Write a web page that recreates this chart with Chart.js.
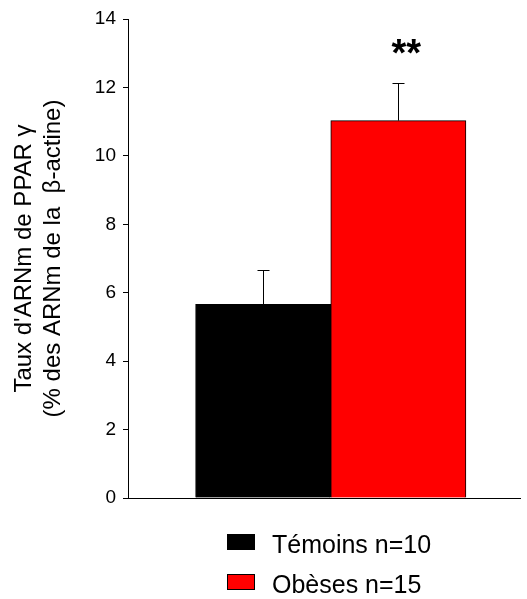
<!DOCTYPE html>
<html>
<head>
<meta charset="utf-8">
<script src="https://cdn.jsdelivr.net/npm/chart.js@4"></script>
<style>
  html, body { margin:0; padding:0; background:#fff; }
  #wrap { width:527px; height:599px; position:relative; }
</style>
</head>
<body>
<div id="wrap"><canvas id="chart" width="527" height="599"></canvas></div>
<script>
// ---------- DATA ----------
const GROUPS = ["Témoins n=10", "Obèses n=15"];
const MEANS = [5.66, 11.03];
const SEMS = [0.99, 1.1];
const COLORS = ["#000000", "#ff0000"];
const Y_TICKS = [0, 2, 4, 6, 8, 10, 12, 14];
const Y_TITLE = ["Taux d'ARNm de PPAR γ", "(% des ARNm de la  β-actine)"];
const SIGNIF = "**";

const FONT = "'Liberation Sans', Arial, sans-serif";

// error bars, stars, y title and legend
const extras = {
  id: "extras",
  afterDatasetsDraw(chart) {
    const ctx = chart.ctx;
    const x = chart.scales.x, y = chart.scales.y;
    ctx.save();
    ctx.strokeStyle = "#000";
    ctx.lineWidth = 1;
    MEANS.forEach((m, i) => {
      const cx = Math.round(x.getPixelForValue(i + 1)) + 0.5;
      const top = Math.round(y.getPixelForValue(m + SEMS[i])) + 0.5;
      ctx.beginPath();
      ctx.moveTo(cx, y.getPixelForValue(m));
      ctx.lineTo(cx, top);
      ctx.moveTo(cx - 6, top);
      ctx.lineTo(cx + 6, top);
      ctx.stroke();
    });
    // significance stars over the last bar
    const last = MEANS.length - 1;
    ctx.fillStyle = "#000";
    ctx.font = "bold 38px " + FONT;
    ctx.textAlign = "center";
    ctx.textBaseline = "alphabetic";
    ctx.fillText(SIGNIF, x.getPixelForValue(last + 1) + 8, y.getPixelForValue(MEANS[last] + SEMS[last]) - 17);

    // y axis title, two rotated lines
    const midY = (chart.chartArea.top + chart.chartArea.bottom) / 2;
    ctx.font = "24px " + FONT;
    ctx.save();
    ctx.translate(0, midY);
    ctx.rotate(-Math.PI / 2);
    ctx.textBaseline = "middle";
    ctx.fillText(Y_TITLE[0], 0, 24);
    ctx.fillText(Y_TITLE[1], 0, 53);
    ctx.restore();

    // legend
    ctx.font = "25px " + FONT;
    ctx.textAlign = "left";
    GROUPS.forEach((g, i) => {
      const by = 534 + i * 40;
      ctx.fillStyle = COLORS[i];
      ctx.fillRect(227, by, 28, 16);
      ctx.strokeStyle = "#000";
      ctx.strokeRect(227.5, by + 0.5, 27, 15);
      ctx.fillStyle = "#000";
      ctx.fillText(g, 272, by + 19);
    });
    ctx.restore();
  }
};

new Chart(document.getElementById("chart"), {
  type: "bar",
  data: {
    datasets: GROUPS.map((g, i) => ({
      label: g,
      data: [{ x: i + 1, y: MEANS[i] }],
      backgroundColor: COLORS[i],
      borderColor: "#000",
      borderWidth: 1,
      barPercentage: 1,
      categoryPercentage: 1,
      grouped: false
    }))
  },
  options: {
    responsive: false,
    animation: false,
    layout: { padding: { left: 0, right: 7, top: 19, bottom: 101 } },
    plugins: { legend: { display: false }, title: { display: false }, tooltip: { enabled: false } },
    scales: {
      x: {
        type: "linear",
        offset: false,
        min: 0,
        max: 2.9,
        afterBuildTicks: s => { s.ticks = GROUPS.map((g, i) => ({ value: i + 1 })); },
        ticks: { display: false },
        grid: { display: false, offset: false },
        border: { display: true, color: "#000", width: 1 },
        afterFit: s => { s.height = 0; }
      },
      y: {
        min: 0,
        max: 14,
        afterBuildTicks: s => { s.ticks = Y_TICKS.map(v => ({ value: v })); },
        ticks: { color: "#000", font: { family: FONT, size: 19 }, padding: 7 },
        grid: { drawOnChartArea: false, tickLength: 5, color: "#000" },
        border: { display: true, color: "#000", width: 1 },
        afterFit: s => { s.width = 128; }
      }
    }
  },
  plugins: [extras]
});
</script>
</body>
</html>
